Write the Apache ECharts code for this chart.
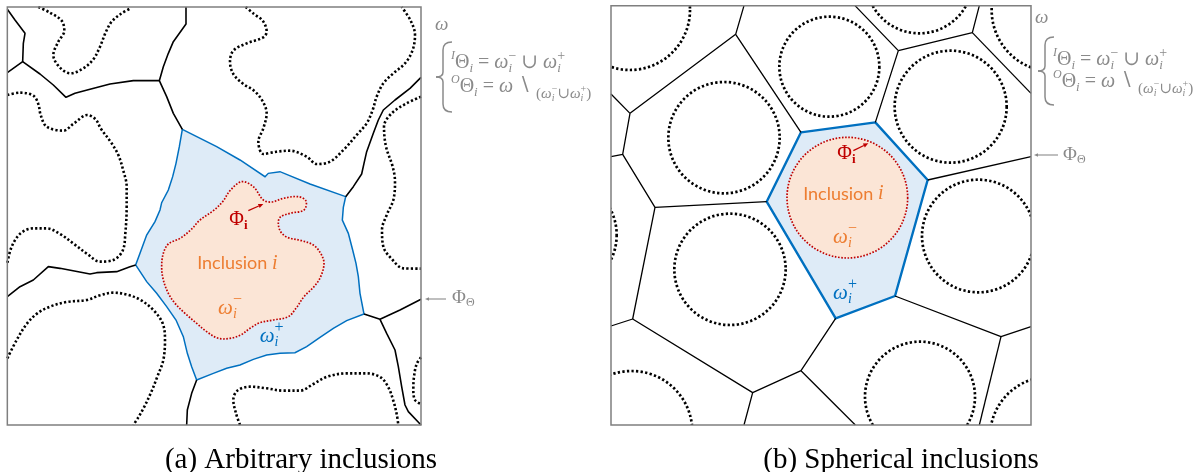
<!DOCTYPE html>
<html>
<head>
<meta charset="utf-8">
<script src="https://cdn.jsdelivr.net/npm/echarts@6/dist/echarts.min.js"></script>
<style>
  html, body { margin: 0; padding: 0; background: #ffffff; }
  #chart { width: 1203px; height: 472px; }
</style>
</head>
<body>
<div id="chart"></div>
<script>
// ---------------------------------------------------------------
// Panel (a): arbitrary inclusions. Drawing units: 3 units = 1 px.
// ---------------------------------------------------------------
// grain boundaries (solid black polylines)
const A_BOUNDARIES = [
  [[22,28],[45,60],[75,100],[70,130],[68,185],[22,218]],
  [[68,185],[120,222],[160,255],[198,292],[225,280],[270,268],[330,252],[400,242],[478,242]],
  [[558,21],[558,72],[520,125],[505,160],[490,200],[478,242],[500,290],[520,340],[547,388]],
  [[22,890],[60,860],[100,840],[145,800],[180,805],[270,822],[290,818],[350,815],[390,800],[407,795]],
  [[1037,590],[1060,560],[1085,522],[1092,490],[1100,455],[1120,400],[1135,360],[1150,330],[1185,300],[1230,265],[1263,232]],
  [[1092,942],[1140,958],[1200,930],[1263,898]],
  [[1140,958],[1160,1000],[1185,1050],[1195,1100],[1205,1160],[1215,1215],[1225,1235],[1263,1275]],
  [[590,1140],[575,1180],[562,1230],[560,1275]]
];
// neighbouring inclusions (dotted black curves)
const A_NEIGHBOURS = [
  [[115,21],[150,38],[185,62],[193,92],[175,125],[160,165],[180,203],[212,220],[250,205],[280,178],[300,140],[318,95],[335,65],[362,42],[390,26]],
  [[737,21],[762,42],[788,62],[800,95],[790,112],[740,130],[700,152],[690,185],[700,222],[730,252],[762,272],[787,302],[800,340],[790,385],[775,425],[790,462],[830,455],[870,452],[920,470],[950,492],[990,485],[1035,445],[1070,405],[1100,370],[1118,330],[1130,290],[1150,250],[1180,220],[1215,190],[1238,150],[1245,105],[1232,62],[1205,21]],
  [[1263,290],[1220,310],[1175,340],[1152,380],[1158,440],[1178,500],[1185,545],[1180,600],[1160,645],[1146,690],[1150,740],[1178,780],[1210,805],[1263,806]],
  [[22,285],[60,278],[100,287],[115,312],[122,345],[140,380],[190,392],[222,370],[262,345],[287,358],[302,385],[335,430],[355,465],[370,512],[380,560],[380,620],[376,700],[368,752],[340,780],[300,785],[262,762],[222,732],[180,702],[140,685],[100,685],[62,700],[35,740],[22,790]],
  [[22,1075],[50,1020],[80,972],[112,940],[150,920],[200,906],[260,900],[300,886],[340,878],[382,884],[422,900],[460,930],[488,970],[495,1020],[490,1080],[472,1130],[452,1180],[432,1222],[415,1252],[400,1275]],
  [[720,1275],[708,1240],[700,1200],[712,1172],[750,1160],[800,1165],[850,1172],[900,1172],[940,1152],[982,1130],[1040,1120],[1100,1120],[1142,1132],[1165,1162],[1180,1202],[1190,1242],[1195,1275]],
  [[1263,1072],[1250,1092],[1242,1130],[1240,1170],[1245,1200],[1263,1212]]
];
// cell of inclusion i (omega_i^+ outline)
const A_CELL = [
  [547,388],[650,440],[720,480],[795,530],[805,520],[840,515],[930,552],[1037,590],[1030,622],[1027,660],
  [1045,700],[1058,750],[1068,790],[1075,830],[1080,880],[1092,942],[1040,962],[1000,985],[960,1012],[920,1040],
  [885,1058],[840,1060],[800,1065],[760,1078],[720,1095],[680,1105],[640,1120],[590,1140],[575,1100],[562,1060],
  [550,1010],[528,960],[500,920],[470,880],[440,845],[407,795],[420,760],[440,705],[465,665],[480,630],
  [485,608],[505,570],[518,530],[528,490],[538,440]
];
// inclusion i (omega_i^- outline)
const A_INCLUSION = [
  [725,545],[760,560],[790,600],[815,606],[850,595],[895,590],[918,603],[912,630],[870,640],[840,652],
  [835,672],[842,695],[862,712],[905,722],[940,735],[962,760],[972,790],[962,830],[942,860],[912,890],
  [888,925],[865,950],[820,960],[780,968],[750,985],[722,1005],[690,1015],[655,1015],[620,995],[590,970],
  [555,940],[525,910],[505,880],[490,840],[485,800],[490,760],[505,732],[540,715],[572,690],[600,660],
  [640,632],[668,605],[690,572]
];
const A_ARROW = [[745,632],[790,612]];

// ---------------------------------------------------------------
// Panel (b): spherical inclusions (Voronoi cells).
// ---------------------------------------------------------------
const B_BOUNDARIES = [
  [[432,17],[407,103],[603,397]],
  [[407,103],[90,340],[33,282]],
  [[90,340],[68,463],[33,470]],
  [[68,463],[165,622],[500,605]],
  [[165,622],[98,957],[33,978]],
  [[98,957],[458,1178],[432,1275]],
  [[458,1178],[603,1112],[707,955]],
  [[603,1112],[766,1275]],
  [[826,367],[895,152],[765,17]],
  [[895,152],[1117,98],[1138,17]],
  [[1117,98],[1293,280]],
  [[983,540],[1293,470]],
  [[885,888],[1203,1010],[1293,980]],
  [[1203,1010],[1138,1275]]
];
const B_CELL = [[603,397],[826,367],[983,540],[885,888],[707,955],[500,605]];
// neighbouring spheres: [centre x, centre y, radius]
const B_SPHERES = [
  [90,30,180],[372,413,167],[688,200,150],[958,-60,160],[1052,320,168],[1360,30,185],
  [-120,705,170],[390,808,167],[1135,708,169],[95,1295,182],[960,1190,165],[1350,1310,180]
];
const B_INCLUSION = [[742,593,181]];
const B_ARROW = [[760,452],[805,430]];

const CAPTIONS = ['(a) Arbitrary inclusions', '(b) Spherical inclusions'];

// ---------------------------------------------------------------
const GRAY = '#8a8a8a';
const RED = '#C00000';
const BLUE = '#0070C0';
const ORANGE = '#ED7D31';
const MATH = "'Liberation Serif', 'DejaVu Serif', serif";
const SANS = "Lato, 'Open Sans', sans-serif";

function lineSeries(panel, pts, style, smooth, z) {
  return {
    type: 'line', xAxisIndex: panel, yAxisIndex: panel, data: pts,
    symbol: 'none', smooth: smooth || false, lineStyle: style,
    z: z, silent: true, clip: true
  };
}
function polygonSeries(panel, pts, style, smooth, z) {
  return {
    type: 'custom', xAxisIndex: panel, yAxisIndex: panel, clip: true, z: z, silent: true,
    data: [pts[0]],
    renderItem: function (params, api) {
      return {
        type: 'polygon',
        shape: { points: pts.map(function (p) { return api.coord(p); }), smooth: smooth || 0 },
        style: style
      };
    }
  };
}
function circleSeries(panel, circles, style, z) {
  return {
    type: 'custom', xAxisIndex: panel, yAxisIndex: panel, clip: true, z: z, silent: true,
    data: circles,
    renderItem: function (params, api) {
      const c = api.coord([api.value(0), api.value(1)]);
      const r = api.size([api.value(2), 0])[0];
      return { type: 'circle', shape: { cx: c[0], cy: c[1], r: r }, style: style };
    }
  };
}

const solid = { color: '#000', width: 1.6 };
const dotted = { color: '#000', width: 2.6, type: [2.2, 2.2], cap: 'butt' };
const dottedStyle = { stroke: '#000', fill: null, lineWidth: 2.7, lineDash: [2.3, 2.3] };

const series = [];
// panel (a)
series.push(polygonSeries(0, A_CELL, { fill: '#DEEBF7', stroke: BLUE, lineWidth: 1.5 }, 0, 2));
series.push(polygonSeries(0, A_INCLUSION, { fill: '#FBE5D6', stroke: RED, lineWidth: 1.7, lineDash: [1.6, 1.6] }, 0.35, 3));
A_BOUNDARIES.forEach(function (p) { series.push(lineSeries(0, p, solid, false, 4)); });
A_NEIGHBOURS.forEach(function (p) { series.push(lineSeries(0, p, dotted, 0.35, 4)); });
// panel (b)
series.push(polygonSeries(1, B_CELL, { fill: '#DEEBF7', stroke: BLUE, lineWidth: 2.4, lineJoin: 'round' }, 0, 2));
series.push(circleSeries(1, B_INCLUSION, { fill: '#FBE5D6', stroke: RED, lineWidth: 1.7, lineDash: [1.6, 1.6] }, 3));
B_BOUNDARIES.forEach(function (p) { series.push(lineSeries(1, p, { color: '#000', width: 1.3 }, false, 4)); });
series.push(circleSeries(1, B_SPHERES, dottedStyle, 4));

const option = {
  animation: false,
  backgroundColor: '#ffffff',
  grid: [
    { left: 7.33, top: 7, width: 413.67, height: 418, show: true, borderColor: '#7f7f7f', borderWidth: 1.5, backgroundColor: 'transparent', z: 10 },
    { left: 611, top: 5.67, width: 420, height: 419.33, show: true, borderColor: '#7f7f7f', borderWidth: 1.5, backgroundColor: 'transparent', z: 10 }
  ],
  xAxis: [
    { type: 'value', gridIndex: 0, min: 22, max: 1263, show: false },
    { type: 'value', gridIndex: 1, min: 33, max: 1293, show: false }
  ],
  yAxis: [
    { type: 'value', gridIndex: 0, min: 21, max: 1275, inverse: true, show: false },
    { type: 'value', gridIndex: 1, min: 17, max: 1275, inverse: true, show: false }
  ],
  series: series
};

const chart = echarts.init(document.getElementById('chart'), null, { renderer: 'canvas' });
chart.setOption(option);

// ---------- text and annotation layer ----------
const measureCtx = document.createElement('canvas').getContext('2d');
function tokenFont(tk, base) {
  return { size: tk.s || base, family: tk.f || MATH, style: tk.it ? 'italic' : 'normal', weight: tk.b ? 'bold' : 'normal' };
}
function tokenWidth(tk, base) {
  const f = tokenFont(tk, base);
  measureCtx.font = f.style + ' ' + f.weight + ' ' + f.size + 'px ' + f.family;
  return measureCtx.measureText(tk.t).width;
}
function rowWidth(tokens, base) {
  let w = 0, pending = 0;
  tokens.forEach(function (tk) {
    const tw = tokenWidth(tk, base);
    if (tk.stack) { pending = Math.max(pending, tw); } else { w += Math.max(tw, pending); pending = 0; }
  });
  return w;
}
function mathRow(x, y, tokens, color, base) {
  const els = [];
  let cx = x, pending = 0;
  tokens.forEach(function (tk) {
    const f = tokenFont(tk, base);
    const tw = tokenWidth(tk, base);
    els.push({
      type: 'text', x: cx, y: y + (tk.dy || 0), silent: true, z: 100,
      style: { text: tk.t, fill: color, fontSize: f.size, fontFamily: f.family, fontStyle: f.style, fontWeight: f.weight, align: 'left', verticalAlign: 'middle' }
    });
    if (tk.stack) { pending = Math.max(pending, tw); } else { cx += Math.max(tw, pending); pending = 0; }
  });
  return els;
}
function centredRow(cx, y, tokens, color, base) {
  return mathRow(cx - rowWidth(tokens, base) / 2, y, tokens, color, base);
}
function arrow(p0, p1, color, width, head) {
  const dx = p1[0] - p0[0], dy = p1[1] - p0[1];
  const len = Math.sqrt(dx * dx + dy * dy), ux = dx / len, uy = dy / len;
  const bx = p1[0] - ux * head, by = p1[1] - uy * head;
  return [
    { type: 'line', silent: true, z: 100, shape: { x1: p0[0], y1: p0[1], x2: bx, y2: by }, style: { stroke: color, lineWidth: width } },
    { type: 'polygon', silent: true, z: 100, shape: { points: [[p1[0], p1[1]], [bx - uy * head * 0.45, by + ux * head * 0.45], [bx + uy * head * 0.45, by - ux * head * 0.45]] }, style: { fill: color } }
  ];
}
function brace(xl, xm, xr, y0, ym, y1, color) {
  const s = { stroke: color, lineWidth: 1.5, fill: null };
  return [
    { type: 'bezierCurve', silent: true, z: 100, shape: { x1: xr, y1: y0, x2: xm, y2: y0 + 8, cpx1: xm, cpy1: y0 }, style: s },
    { type: 'line', silent: true, z: 100, shape: { x1: xm, y1: y0 + 8, x2: xm, y2: ym - 5 }, style: s },
    { type: 'bezierCurve', silent: true, z: 100, shape: { x1: xm, y1: ym - 5, x2: xl, y2: ym, cpx1: xm, cpy1: ym }, style: s },
    { type: 'bezierCurve', silent: true, z: 100, shape: { x1: xl, y1: ym, x2: xm, y2: ym + 5, cpx1: xm, cpy1: ym }, style: s },
    { type: 'line', silent: true, z: 100, shape: { x1: xm, y1: ym + 5, x2: xm, y2: y1 - 8 }, style: s },
    { type: 'bezierCurve', silent: true, z: 100, shape: { x1: xm, y1: y1 - 8, x2: xr, y2: y1, cpx1: xm, cpy1: y1 }, style: s }
  ];
}

const LINE1 = [
  { t: 'I', s: 12, it: true, dy: -7 }, { t: 'Θ' }, { t: 'i', s: 13, it: true, dy: 6 }, { t: ' = ' },
  { t: 'ω', it: true }, { t: 'i', s: 13, it: true, dy: 6, stack: true }, { t: '−', s: 14, dy: -7 },
  { t: ' ∪ ' }, { t: 'ω', it: true }, { t: 'i', s: 13, it: true, dy: 6, stack: true }, { t: '+', s: 14, dy: -7 }
];
const LINE2 = [
  { t: 'O', s: 12, it: true, dy: -7 }, { t: 'Θ' }, { t: 'i', s: 13, it: true, dy: 6 }, { t: ' = ' },
  { t: 'ω', it: true }, { t: ' ∖ ' },
  { t: '(', s: 15, dy: 7 }, { t: 'ω', s: 15, it: true, dy: 7 }, { t: 'i', s: 10, it: true, dy: 11, stack: true }, { t: '−', s: 10, dy: 2 },
  { t: '∪', s: 15, dy: 7 }, { t: 'ω', s: 15, it: true, dy: 7 }, { t: 'i', s: 10, it: true, dy: 11, stack: true }, { t: '+', s: 10, dy: 2 },
  { t: ')', s: 15, dy: 7 }
];
const PHI_THETA = [{ t: 'Φ' }, { t: 'Θ', s: 12, dy: 5 }];
const PHI_I = [{ t: 'Φ' }, { t: 'i', s: 13, dy: 6, b: true }];
const INCL = [{ t: 'Inclusion ', f: SANS }, { t: 'i', it: true, s: 20 }];
const OMEGA_MINUS = [{ t: 'ω', it: true }, { t: 'i', s: 14, it: true, dy: 6, stack: true }, { t: '−', s: 16, dy: -9 }];
const OMEGA_PLUS = [{ t: 'ω', it: true }, { t: 'i', s: 14, it: true, dy: 6, stack: true }, { t: '+', s: 16, dy: -9 }];

function px(g, p) { return chart.convertToPixel({ gridIndex: g }, p); }

let gfx = [];
// panel (a) labels
(function () {
  const phi = px(0, [688, 660]);
  gfx = gfx.concat(mathRow(phi[0], phi[1], PHI_I, RED, 20));
  gfx = gfx.concat(arrow(px(0, A_ARROW[0]), px(0, A_ARROW[1]), RED, 1.3, 5));
  const inc = px(0, [712, 790]);
  gfx = gfx.concat(centredRow(inc[0], inc[1], INCL, ORANGE, 18));
  const om = px(0, [690, 925]);
  gfx = gfx.concat(centredRow(om[0], om[1], OMEGA_MINUS, ORANGE, 21));
  const op = px(0, [815, 1010]);
  gfx = gfx.concat(centredRow(op[0], op[1], OMEGA_PLUS, BLUE, 21));
})();
// panel (b) labels
(function () {
  const phi = px(1, [712, 462]);
  gfx = gfx.concat(mathRow(phi[0], phi[1], PHI_I, RED, 20));
  gfx = gfx.concat(arrow(px(1, B_ARROW[0]), px(1, B_ARROW[1]), RED, 1.3, 5));
  const inc = px(1, [730, 582]);
  gfx = gfx.concat(centredRow(inc[0], inc[1], INCL, ORANGE, 18));
  const om = px(1, [735, 712]);
  gfx = gfx.concat(centredRow(om[0], om[1], OMEGA_MINUS, ORANGE, 21));
  const op = px(1, [735, 880]);
  gfx = gfx.concat(centredRow(op[0], op[1], OMEGA_PLUS, BLUE, 21));
})();

// side notes of panel (a)
gfx = gfx.concat(mathRow(435, 25, [{ t: 'ω', it: true }], GRAY, 19));
gfx = gfx.concat(brace(436, 443, 452, 42, 77, 112, GRAY));
gfx = gfx.concat(mathRow(451, 63, LINE1, GRAY, 20));
gfx = gfx.concat(mathRow(451, 87, LINE2, GRAY, 20));
gfx = gfx.concat(arrow([446, 299], [425, 299], GRAY, 1.1, 4));
gfx = gfx.concat(mathRow(452, 298, PHI_THETA, GRAY, 19));
// side notes of panel (b)
gfx = gfx.concat(mathRow(1035, 18, [{ t: 'ω', it: true }], GRAY, 19));
gfx = gfx.concat(brace(1038, 1045, 1054, 37, 71, 105, GRAY));
gfx = gfx.concat(mathRow(1053, 60, LINE1, GRAY, 20));
gfx = gfx.concat(mathRow(1053, 82, LINE2, GRAY, 20));
gfx = gfx.concat(arrow([1058, 155], [1034, 155], GRAY, 1.1, 4));
gfx = gfx.concat(mathRow(1063, 155, PHI_THETA, GRAY, 19));

// captions
[[CAPTIONS[0], 301], [CAPTIONS[1], 901]].forEach(function (c) {
  gfx.push({
    type: 'text', x: c[1], y: 460, silent: true, z: 100,
    style: { text: c[0], fill: '#000', fontSize: 29, fontFamily: MATH, align: 'center', verticalAlign: 'middle' }
  });
});

chart.setOption({ graphic: { elements: gfx } });
</script>
</body>
</html>
